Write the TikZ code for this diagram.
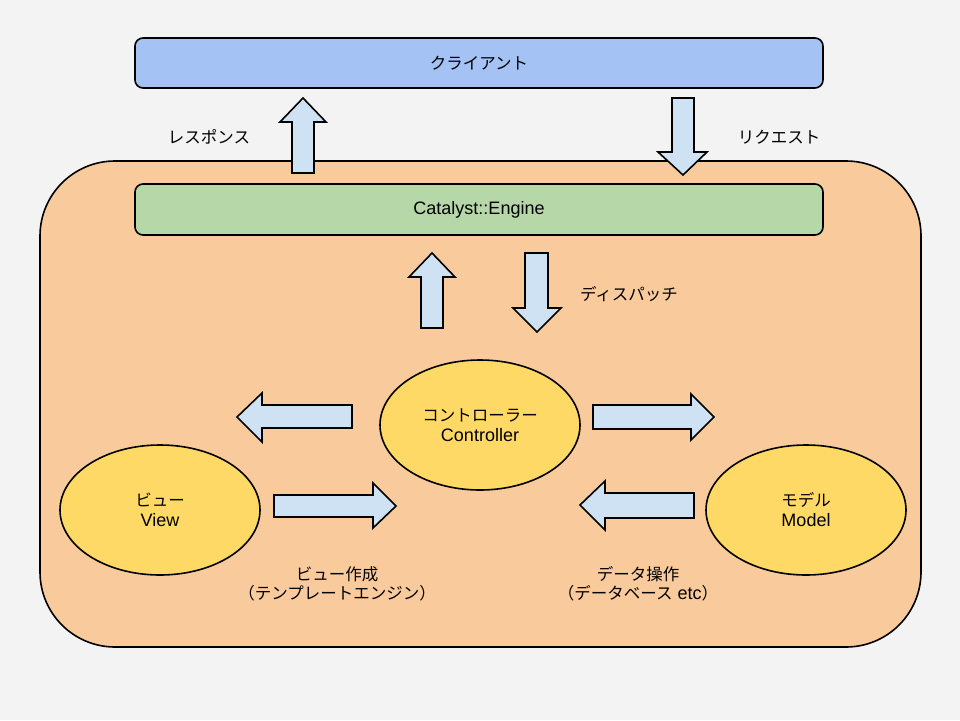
\documentclass[tikz,border=0pt]{standalone}
\usepackage{fontspec}
\setmainfont{Liberation Sans}
\newfontfamily\cjk{Noto Sans CJK JP}
\newcommand\jp[1]{{\cjk\fontsize{16.5}{20}\selectfont #1}}
\usetikzlibrary{shapes.geometric}
\definecolor{bgc}{HTML}{F3F3F3}
\definecolor{clientc}{HTML}{A4C2F4}
\definecolor{enginec}{HTML}{B6D7A8}
\definecolor{sysc}{HTML}{F9CB9C}
\definecolor{ellc}{HTML}{FFD966}
\definecolor{arrc}{HTML}{CFE2F3}
\tikzset{
  bar/.style={draw=black, line width=1.6pt, rounded corners=8pt, minimum width=688pt, minimum height=50pt, inner sep=0pt, font=\fontsize{18}{20}\selectfont},
  oval/.style={ellipse, draw=black, line width=1.6pt, fill=ellc, minimum width=200pt, minimum height=130pt, inner sep=0pt, align=center, font=\fontsize{18}{20}\selectfont},
  barrow/.style={draw=black, line width=1.6pt, fill=arrc, line join=miter},
  lbl/.style={align=center, font=\fontsize{18}{19}\selectfont, inner sep=0pt}
}
\begin{document}
\begin{tikzpicture}[x=1pt,y=-1pt]
\path[fill=bgc,use as bounding box] (0,0) rectangle (960,720);
\node[draw=black, line width=1.6pt, fill=sysc, rounded corners=75pt, minimum width=881pt, minimum height=486pt, inner sep=0pt] (sys) at (480.5,404) {};
\node[bar, fill=clientc] (client) at (479,63) {\jp{クライアント}};
\node[bar, fill=enginec, minimum height=51pt] (engine) at (479,209.5) {Catalyst::Engine};
\node[oval] (ctrl) at (480,425) {\jp{コントローラー}\\Controller};
\node[oval] (view) at (160,510) {\jp{ビュー}\\View};
\node[oval] (model) at (806,510) {\jp{モデル}\\Model};
% block arrows
\draw[barrow] (292,173) -- (292,122) -- (280,122) -- (303,98) -- (326,122) -- (314,122) -- (314,173) -- cycle;
\draw[barrow] (672,98) -- (694,98) -- (694,152) -- (707,152) -- (683,175) -- (658,152) -- (672,152) -- cycle;
\draw[barrow] (421,328) -- (421,277) -- (409,277) -- (432,253) -- (455,277) -- (443,277) -- (443,328) -- cycle;
\draw[barrow] (525,253) -- (548,253) -- (548,308) -- (561,308) -- (537,332) -- (513,308) -- (525,308) -- cycle;
\draw[barrow] (352,405) -- (262,405) -- (262,393) -- (237,417) -- (262,442) -- (262,428) -- (352,428) -- cycle;
\draw[barrow] (274,495) -- (373,495) -- (373,483) -- (396,506) -- (373,528) -- (373,517) -- (274,517) -- cycle;
\draw[barrow] (593,405) -- (691,405) -- (691,394) -- (714,417) -- (691,440) -- (691,429) -- (593,429) -- cycle;
\draw[barrow] (694,493) -- (605,493) -- (605,481) -- (580,505) -- (605,530) -- (605,518) -- (694,518) -- cycle;
% labels
\node[lbl] (resp) at (209,137) {\jp{レスポンス}};
\node[lbl] (req) at (779,137) {\jp{リクエスト}};
\node[lbl] (disp) at (629,294) {\jp{ディスパッチ}};
\node[lbl] (vlbl) at (337,584) {\jp{ビュー作成}\\\jp{（テンプレートエンジン）}};
\node[lbl] (mlbl) at (638,584) {\jp{データ操作}\\\jp{（データベース} etc\jp{）}};
\end{tikzpicture}
\end{document}
